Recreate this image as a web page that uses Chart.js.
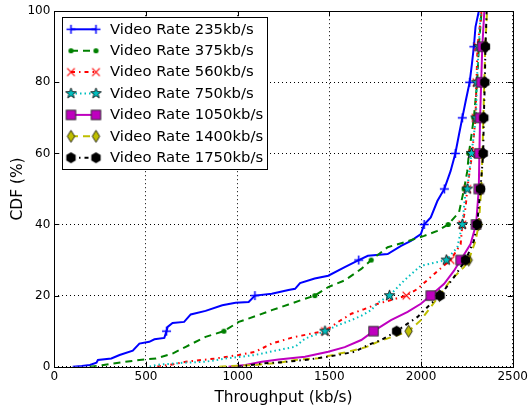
<!DOCTYPE html>
<html>
<head>
<meta charset="utf-8">
<script src="https://cdn.jsdelivr.net/npm/chart.js@4.4.0/dist/chart.umd.min.js"></script>
<style>
  html, body { margin: 0; padding: 0; background: #ffffff; }
  #wrap { width: 531px; height: 407px; }
</style>
</head>
<body>
<div id="wrap"><canvas id="cdf" width="531" height="407"></canvas></div>
<script>
// Throughput CDF per video rate
const seriesLabels = [
  'Video Rate 235kb/s', 'Video Rate 375kb/s', 'Video Rate 560kb/s', 'Video Rate 750kb/s',
  'Video Rate 1050kb/s', 'Video Rate 1400kb/s', 'Video Rate 1750kb/s'
];
const xTicks = [0, 500, 1000, 1500, 2000, 2500];
const yTicks = [0, 20, 40, 60, 80, 100];
const markerLevels = [10, 20, 30, 40, 50, 60, 70, 80, 90];

const rate235Kbps = [100,150,194,230,238,311,356,428,464,518,546,600,612,618,645,708,744,825,916,988,1060,1094,1186,1277,1313,1340,1420,1494,1584,1660,1710,1818,1891,1945,1999,2017,2053,2089,2127,2161,2187,2207,2225,2243,2265,2277,2288,2297,2315];
const rate235Cdf  = [0,0.2,0.5,1.1,1.9,2.3,3.3,4.5,6.5,7.0,7.7,8.1,10,11.2,12.3,12.6,14.7,15.7,17.3,18,18.2,20,20.5,21.6,21.9,23.5,24.8,25.6,28,30,31.2,31.7,34,35.4,37.3,40,42,46.6,50,55,60,65.3,70,74.6,80,85,90,95.6,100];

const rate375Kbps = [193,260,320,464,555,645,717,825,925,1006,1096,1186,1277,1350,1421,1494,1584,1674,1728,1818,1909,2017,2089,2148,2207,2235,2252,2261,2288,2306,2315,2330];
const rate375Cdf  = [0,0.4,0.9,1.9,2.3,3.7,5.6,8.4,10,12.6,14.2,15.9,17.5,18.8,20,22.4,24.3,27.5,30,33.6,35,36.8,38.2,40,43.4,50,55,60,70,80,90,100];

const rate560Kbps = [560,650,717,880,1006,1096,1186,1277,1313,1403,1476,1548,1620,1690,1764,1840,1920,1981,2072,2135,2161,2216,2225,2243,2252,2279,2297,2302,2308,2330];
const rate560Cdf  = [0,0.7,1.4,2.3,3.3,4.2,6.5,7.9,8.4,9.3,10,12.6,14.9,16.2,17.7,18.8,20,21.9,26.1,28.9,30,34.5,40,44.8,50,60,70,80,90,100];

const rate750Kbps = [520,555,699,825,934,1096,1223,1313,1367,1476,1548,1620,1674,1728,1764,1828,1909,1999,2070,2138,2198,2225,2243,2252,2275,2300,2304,2315,2325];
const rate750Cdf  = [0,0.5,1.1,1.4,2.3,3.3,4.7,5.6,7.9,10,11.7,13.1,14.3,15.9,18,20,24.3,28.4,29.2,30,33.6,40,49.4,50,60,70,80,90,100];

const rate1050Kbps = [950,1042,1132,1223,1367,1494,1584,1674,1741,1836,1927,1999,2053,2126,2180,2216,2270,2300,2315,2318,2322,2328,2334,2345];
const rate1050Cdf  = [0,0.5,1.4,2.0,2.8,4.2,5.5,7.5,10,13.1,15.4,17.7,20,23.3,27,30,34.5,40,50,60,70,80,90,100];

const rate1400Kbps = [900,1100,1223,1313,1439,1584,1700,1764,1850,1932,1999,2053,2100,2161,2234,2260,2297,2315,2328,2335,2340,2345,2350,2360];
const rate1400Cdf  = [0,0.5,1.1,1.9,2.4,4,5.5,7,8.5,10,13.1,16.8,20,24.3,28,30,35.4,40,50,60,70,80,90,100];

const rate1750Kbps = [1000,1132,1250,1367,1494,1638,1710,1782,1867,1981,2053,2104,2180,2243,2288,2306,2324,2339,2342,2348,2351,2358];
const rate1750Cdf  = [0,0.9,1.3,1.9,2.8,4.2,6.1,7.5,10,14,17.7,20,25.2,30,35.4,40,50,60,70,80,90,100];

// marker glyphs drawn once into small canvases
function glyph(w, h, draw) {
  const c = document.createElement('canvas');
  c.width = w; c.height = h;
  const g = c.getContext('2d');
  g.translate(w / 2, h / 2);
  draw(g);
  return c;
}
const plusMark = glyph(11, 11, g => {
  g.strokeStyle = '#0000ff'; g.lineWidth = 1.5;
  g.beginPath(); g.moveTo(-4.5, 0); g.lineTo(4.5, 0); g.moveTo(0, -4.5); g.lineTo(0, 4.5); g.stroke();
});
const dotMark = glyph(7, 7, g => {
  g.fillStyle = '#008000'; g.beginPath(); g.arc(0, 0, 2.6, 0, Math.PI * 2); g.fill();
});
const xMark = glyph(11, 11, g => {
  g.strokeStyle = '#ff0000'; g.lineWidth = 1.2;
  g.beginPath(); g.moveTo(-3.8, -3.8); g.lineTo(3.8, 3.8); g.moveTo(-3.8, 3.8); g.lineTo(3.8, -3.8); g.stroke();
});
const starMark = glyph(13, 13, g => {
  g.beginPath();
  for (let k = 0; k < 10; k++) {
    const r = k % 2 === 0 ? 5.6 : 2.3;
    const a = -Math.PI / 2 + k * Math.PI / 5;
    const px = r * Math.cos(a), py = r * Math.sin(a);
    if (k === 0) g.moveTo(px, py); else g.lineTo(px, py);
  }
  g.closePath();
  g.fillStyle = '#00bfbf'; g.fill();
  g.strokeStyle = '#000000'; g.lineWidth = 0.8; g.stroke();
});
const squareMark = glyph(13, 13, g => {
  g.fillStyle = '#bf00bf'; g.fillRect(-4.7, -4.7, 9.4, 9.4);
  g.strokeStyle = '#333333'; g.lineWidth = 1; g.strokeRect(-4.7, -4.7, 9.4, 9.4);
});
const diamondMark = glyph(11, 15, g => {
  g.beginPath(); g.moveTo(0, -6); g.lineTo(3.7, 0); g.lineTo(0, 6); g.lineTo(-3.7, 0); g.closePath();
  g.fillStyle = '#bfbf00'; g.fill();
  g.strokeStyle = '#000000'; g.lineWidth = 0.8; g.stroke();
});
const hexMark = glyph(13, 13, g => {
  g.beginPath();
  for (let k = 0; k < 6; k++) {
    const a = -Math.PI / 2 + k * Math.PI / 3;
    const px = 5.4 * Math.cos(a), py = 5.4 * Math.sin(a);
    if (k === 0) g.moveTo(px, py); else g.lineTo(px, py);
  }
  g.closePath(); g.fillStyle = '#000000'; g.fill();
});

const seriesStyle = [
  { x: rate235Kbps,  y: rate235Cdf,  color: '#0000ff', dash: [],             mark: plusMark },
  { x: rate375Kbps,  y: rate375Cdf,  color: '#008000', dash: [7, 5],         mark: dotMark },
  { x: rate560Kbps,  y: rate560Cdf,  color: '#ff0000', dash: [4, 4, 1.5, 4], mark: xMark },
  { x: rate750Kbps,  y: rate750Cdf,  color: '#00bfbf', dash: [1.5, 3],       mark: starMark },
  { x: rate1050Kbps, y: rate1050Cdf, color: '#bf00bf', dash: [],             mark: squareMark },
  { x: rate1400Kbps, y: rate1400Cdf, color: '#bfbf00', dash: [7, 5],         mark: diamondMark },
  { x: rate1750Kbps, y: rate1750Cdf, color: '#000000', dash: [4, 4, 1.5, 4], mark: hexMark }
];

const datasets = seriesStyle.map((s, i) => ({
  label: seriesLabels[i],
  data: s.x.map((v, j) => ({ x: v, y: s.y[j] })),
  borderColor: s.color,
  backgroundColor: s.color,
  borderWidth: 2,
  borderDash: s.dash,
  tension: 0,
  fill: false,
  order: seriesStyle.length - i,
  pointStyle: s.mark,
  pointRadius: ctx => (ctx.raw && markerLevels.includes(ctx.raw.y)) ? 5 : 0,
  pointHoverRadius: 0
}));

// frame + inward tick marks on all four sides
const framePlugin = {
  id: 'frame',
  afterDatasetsDraw(chart) {
    const { ctx, chartArea: a, scales } = chart;
    ctx.save();
    ctx.strokeStyle = '#000000';
    ctx.lineWidth = 1;
    ctx.setLineDash([]);
    ctx.strokeRect(Math.round(a.left) + 0.5, Math.round(a.top) + 0.5,
                   Math.round(a.right) - Math.round(a.left), Math.round(a.bottom) - Math.round(a.top));
    const len = 5;
    ctx.beginPath();
    xTicks.forEach(v => {
      const px = Math.round(scales.x.getPixelForValue(v)) + 0.5;
      ctx.moveTo(px, a.bottom); ctx.lineTo(px, a.bottom - len);
      ctx.moveTo(px, a.top); ctx.lineTo(px, a.top + len);
    });
    yTicks.forEach(v => {
      const py = Math.round(scales.y.getPixelForValue(v)) + 0.5;
      ctx.moveTo(a.left, py); ctx.lineTo(a.left + len, py);
      ctx.moveTo(a.right, py); ctx.lineTo(a.right - len, py);
    });
    ctx.stroke();
    ctx.restore();
  }
};

// legend box inside the upper-left of the plot
const legendPlugin = {
  id: 'insideLegend',
  afterDraw(chart) {
    const ctx = chart.ctx;
    const boxX = 62.5, boxY = 17.5, boxW = 205, boxH = 152;
    const rowY0 = 29.3, rowStep = 21.4;
    const lineX0 = 71, lineX1 = 96, textX = 110;
    ctx.save();
    ctx.fillStyle = '#ffffff';
    ctx.fillRect(boxX, boxY, boxW, boxH);
    ctx.strokeStyle = '#000000';
    ctx.lineWidth = 1;
    ctx.setLineDash([]);
    ctx.strokeRect(boxX, boxY, boxW, boxH);
    ctx.font = '14.8px "DejaVu Sans"';
    ctx.textBaseline = 'middle';
    ctx.textAlign = 'left';
    seriesStyle.forEach((s, i) => {
      const y = rowY0 + i * rowStep;
      ctx.strokeStyle = s.color;
      ctx.lineWidth = 2;
      ctx.setLineDash(s.dash);
      ctx.beginPath(); ctx.moveTo(lineX0, y); ctx.lineTo(lineX1, y); ctx.stroke();
      ctx.setLineDash([]);
      [lineX0, lineX1].forEach(mx => {
        ctx.drawImage(s.mark, mx - s.mark.width / 2, y - s.mark.height / 2);
      });
      ctx.fillStyle = '#000000';
      ctx.fillText(seriesLabels[i], textX, y + 0.5);
    });
    ctx.restore();
  }
};

new Chart(document.getElementById('cdf'), {
  type: 'line',
  data: { datasets },
  options: {
    responsive: false,
    animation: false,
    events: [],
    layout: { padding: { left: 0, right: 15, top: 9.2, bottom: 0 } },
    plugins: { legend: { display: false }, tooltip: { enabled: false } },
    scales: {
      x: {
        type: 'linear',
        min: 0, max: 2500,
        afterBuildTicks: s => { s.ticks = xTicks.map(v => ({ value: v })); },
        afterFit: s => { s.height = 40.3; },
        ticks: {
          color: '#000000', font: { family: 'DejaVu Sans', size: 12 }, padding: 3, maxRotation: 0,
          callback: v => String(v)
        },
        grid: { color: '#000000', lineWidth: 1, drawTicks: false },
        border: { display: false, dash: [1, 3] },
        title: {
          display: true, text: 'Throughput (kb/s)', color: '#000000',
          font: { family: 'DejaVu Sans', size: 15.4 }, padding: { top: 5, bottom: 0 }
        }
      },
      y: {
        type: 'linear',
        min: 0, max: 100,
        afterBuildTicks: s => { s.ticks = yTicks.map(v => ({ value: v })); },
        afterFit: s => { s.width = 54.3; },
        ticks: {
          color: '#000000', font: { family: 'DejaVu Sans', size: 12 }, padding: 4,
          callback: v => String(v)
        },
        grid: { color: '#000000', lineWidth: 1, drawTicks: false },
        border: { display: false, dash: [1, 3] },
        title: {
          display: true, text: 'CDF (%)', color: '#000000',
          font: { family: 'DejaVu Sans', size: 15.4 }, padding: { top: 9, bottom: 0 }
        }
      }
    }
  },
  plugins: [framePlugin, legendPlugin]
});
</script>
</body>
</html>
